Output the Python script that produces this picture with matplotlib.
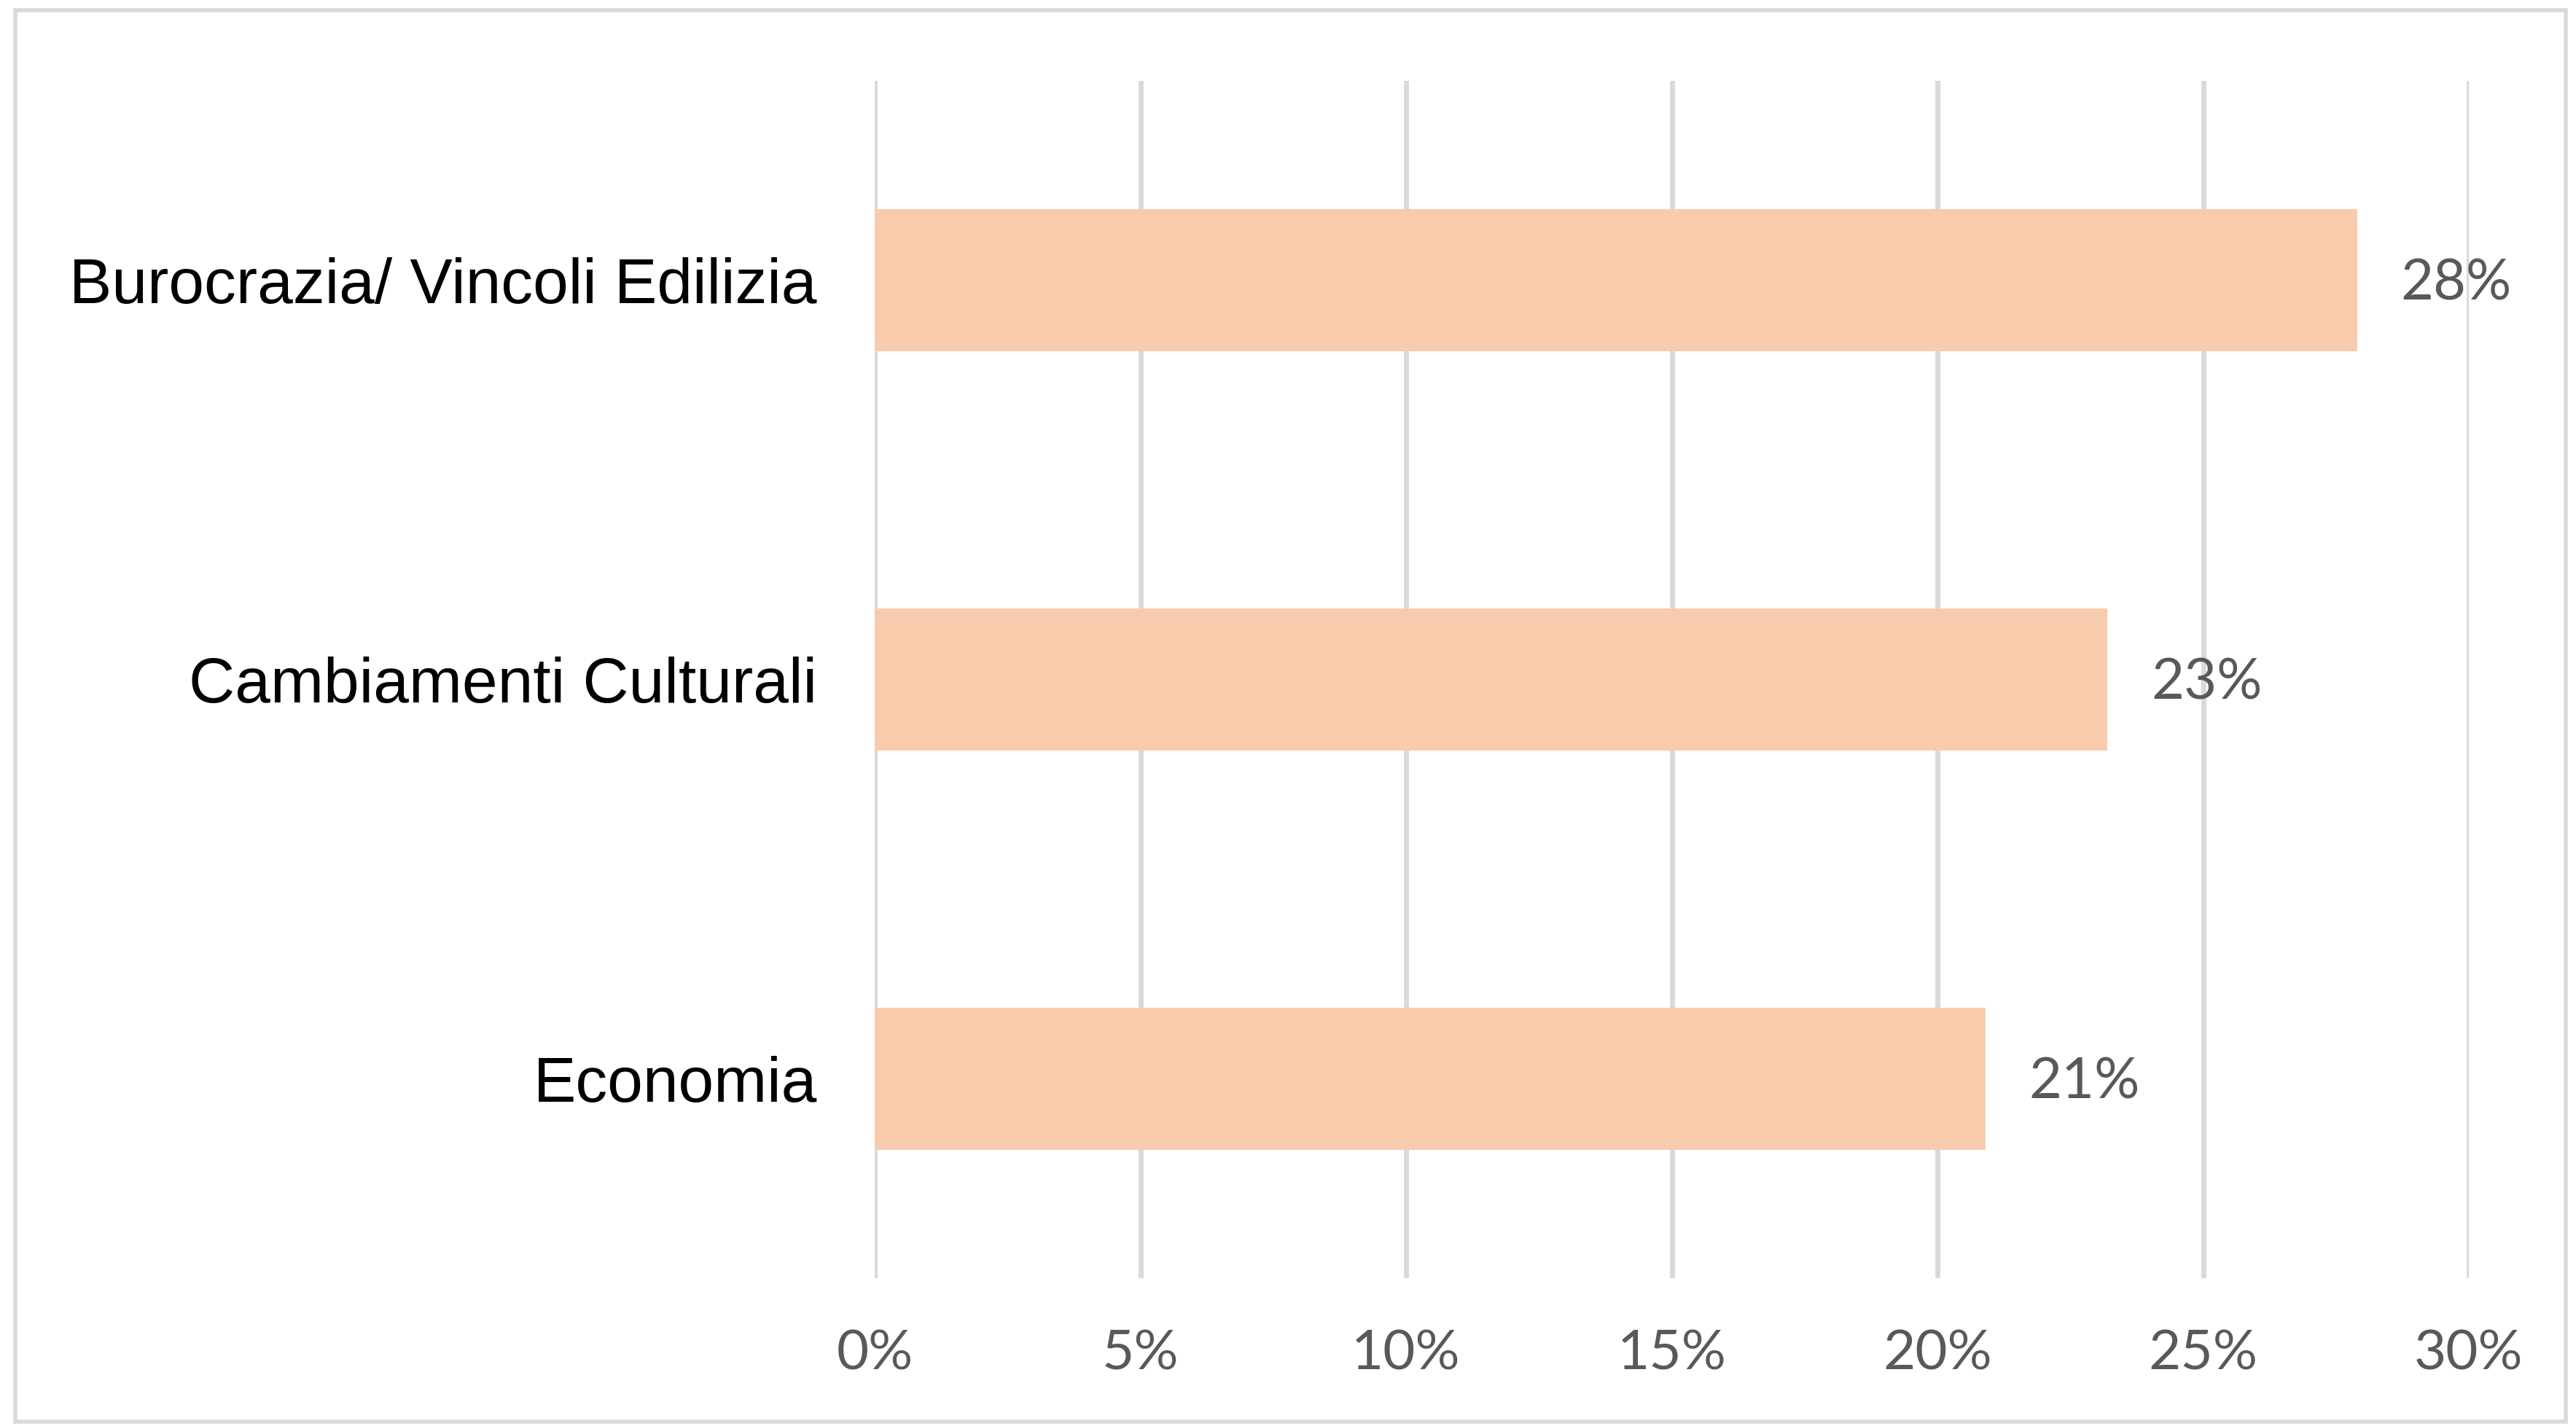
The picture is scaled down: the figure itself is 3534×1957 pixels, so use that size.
import matplotlib
matplotlib.use("Agg")
import matplotlib.pyplot as plt
from matplotlib.patches import Rectangle
from matplotlib.ticker import PercentFormatter

categories = ["Burocrazia/ Vincoli Edilizia", "Cambiamenti Culturali", "Economia"]
values = [0.279, 0.232, 0.209]
labels = ["28%", "23%", "21%"]
xticks = [0, 0.05, 0.10, 0.15, 0.20, 0.25, 0.30]

fig = plt.figure(figsize=(35.34, 19.57), dpi=100)
ax = fig.add_axes([0.3396, 0.1037, 0.6188, 0.8396])

y = list(range(len(categories)))
ax.barh(y, values, height=0.356, color="#F8CBAD", zorder=2)

ax.set_xlim(0, 0.30)
ax.set_ylim(len(categories) - 0.5, -0.5)
ax.set_xticks(xticks)
ax.xaxis.set_major_formatter(PercentFormatter(1.0, decimals=0))
ax.set_yticks(y)
ax.set_yticklabels(categories, fontfamily="Liberation Sans", fontsize=63, color="black")
for t in ax.get_xticklabels():
    t.set_fontfamily("Lato")
    t.set_fontsize(55)
    t.set_color("#595959")
ax.tick_params(axis="y", length=0, pad=57)
ax.tick_params(axis="x", length=0, pad=50)

ax.grid(axis="x", color="#D9D9D9", linewidth=5, zorder=0)
for s in ax.spines.values():
    s.set_visible(False)

for yi, v, lab in zip(y, values, labels):
    ax.annotate(lab, (v, yi), xytext=(43, -4), textcoords="offset points",
                ha="left", va="center", fontfamily="Lato", fontsize=56, color="#595959")

fig.patches.append(Rectangle((0.006, 0.003), 0.99, 0.99, transform=fig.transFigure,
                             fill=False, edgecolor="#D9D9D9", linewidth=4))

fig.savefig("out.png", dpi=100, facecolor="white")
